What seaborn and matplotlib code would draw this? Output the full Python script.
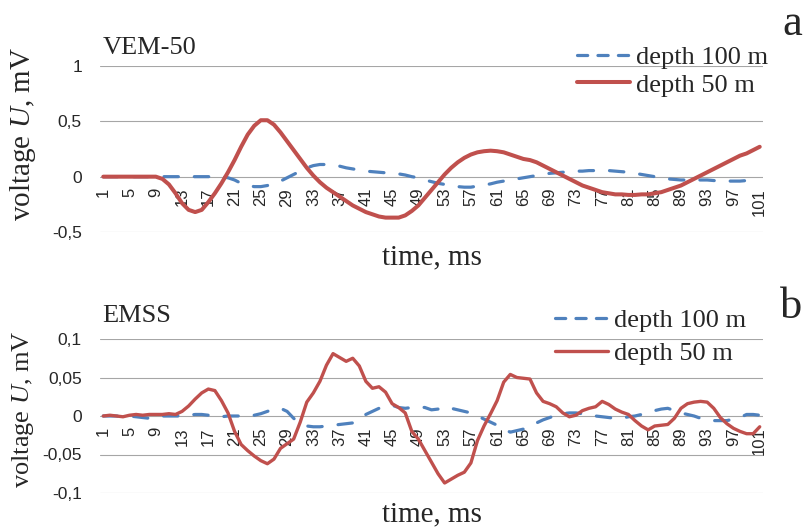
import numpy as np
import pandas as pd
import matplotlib
matplotlib.use("Agg")
import matplotlib.pyplot as plt
import seaborn as sns
from matplotlib.lines import Line2D

# time axis (categories 1..101 ms)
time_ms = np.arange(1, 102)
xtick_labels = [str(t) for t in range(1, 102, 4)]

# VEM-50 panel
vem_100m = [
    0, 0, 0, 0, 0, 0, 0, 0, 0, 0,
    0, 0, 0, 0, 0, 0, 0, 0, 0, -0.01,
    -0.03, -0.06, -0.08, -0.09, -0.09, -0.08, -0.06, -0.04, -0.01, 0.02,
    0.05, 0.08, 0.10, 0.11, 0.11, 0.105, 0.095, 0.08, 0.07, 0.06,
    0.05, 0.045, 0.04, 0.035, 0.03, 0.025, 0.015, 0.0, -0.01, -0.03,
    -0.045, -0.06, -0.07, -0.08, -0.09, -0.095, -0.095, -0.085, -0.075, -0.065,
    -0.05, -0.04, -0.03, -0.02, -0.01, 0.0, 0.01, 0.02, 0.03, 0.035,
    0.04, 0.045, 0.05, 0.05, 0.055, 0.055, 0.055, 0.055, 0.05, 0.045,
    0.04, 0.03, 0.02, 0.01, 0.0, -0.01, -0.02, -0.025, -0.03, -0.03,
    -0.03, -0.03, -0.03, -0.035, -0.04, -0.04, -0.04, -0.04, -0.035, -0.03, -0.03,
]
vem_50m = [
    0, 0, 0, 0, 0, 0, 0, 0, 0, -0.02,
    -0.07, -0.15, -0.24, -0.30, -0.32, -0.30, -0.23, -0.15, -0.06, 0.04,
    0.15, 0.27, 0.38, 0.46, 0.51, 0.51, 0.47, 0.40, 0.32, 0.24,
    0.16, 0.08, 0.01, -0.05, -0.10, -0.14, -0.18, -0.22, -0.26, -0.29,
    -0.32, -0.34, -0.36, -0.37, -0.37, -0.37, -0.35, -0.31, -0.26, -0.19,
    -0.12, -0.05, 0.02, 0.08, 0.13, 0.17, 0.20, 0.22, 0.23, 0.235,
    0.23, 0.22, 0.20, 0.18, 0.16, 0.15, 0.13, 0.10, 0.07, 0.04,
    0.01, -0.02, -0.05, -0.08, -0.10, -0.12, -0.14, -0.15, -0.16, -0.16,
    -0.165, -0.165, -0.16, -0.16, -0.15, -0.14, -0.12, -0.10, -0.08, -0.05,
    -0.02, 0.01, 0.04, 0.07, 0.10, 0.13, 0.16, 0.19, 0.21, 0.24, 0.27,
]

# EMSS panel
emss_100m = [
    0, 0, 0, -0.001, 0, -0.001, -0.002, -0.003, -0.002, 0,
    0, 0, 0, 0.001, 0.002, 0.002, 0.001, -0.001, -0.001, 0,
    0, 0, 0, 0.001, 0.003, 0.006, 0.009, 0.010, 0.006, -0.003,
    -0.010, -0.013, -0.014, -0.014, -0.013, -0.012, -0.011, -0.010, -0.009, -0.004,
    0.002, 0.006, 0.010, 0.013, 0.014, 0.011, 0.010, 0.011, 0.012, 0.011,
    0.008, 0.009, 0.012, 0.010, 0.008, 0.006, 0.004, 0.0, -0.004, -0.008,
    -0.012, -0.017, -0.021, -0.019, -0.017, -0.012, -0.009, -0.005, -0.002, 0.001,
    0.003, 0.004, 0.004, 0.003, 0.002, 0.0, -0.001, -0.002, -0.003, -0.003,
    -0.001, 0.0, 0.002, 0.004, 0.007, 0.009, 0.010, 0.007, 0.004, 0.002,
    0.0, -0.003, -0.005, -0.006, -0.006, -0.006, -0.004, -0.002, 0.002, 0.002, 0.001,
]
emss_50m = [
    0, 0.001, 0, -0.001, 0.001, 0.002, 0.001, 0.002, 0.002, 0.002,
    0.003, 0.002, 0.006, 0.013, 0.022, 0.030, 0.035, 0.033, 0.020, 0.004,
    -0.020, -0.037, -0.045, -0.052, -0.058, -0.062, -0.056, -0.042, -0.036, -0.030,
    -0.008, 0.018, 0.030, 0.045, 0.066, 0.081, 0.076, 0.071, 0.075, 0.065,
    0.045, 0.036, 0.038, 0.031, 0.016, 0.011, 0.004, -0.020, -0.030, -0.045,
    -0.060, -0.075, -0.087, -0.082, -0.077, -0.073, -0.061, -0.032, -0.013, 0.003,
    0.020, 0.044, 0.054, 0.050, 0.049, 0.048, 0.030, 0.019, 0.016, 0.012,
    0.004, -0.001, 0.001, 0.007, 0.010, 0.012, 0.019, 0.015, 0.009, 0.005,
    0.002, -0.006, -0.013, -0.018, -0.013, -0.012, -0.011, -0.003, 0.010, 0.016,
    0.018, 0.019, 0.018, 0.010, -0.002, -0.010, -0.016, -0.020, -0.023, -0.023, -0.014,
]

vem_yticks = [-0.5, 0, 0.5, 1]
vem_ylabels = ["-0,5", "0", "0,5", "1"]
emss_yticks = [-0.1, -0.05, 0, 0.05, 0.1]
emss_ylabels = ["-0,1", "-0,05", "0", "0,05", "0,1"]

series_names = ["depth 100 m", "depth 50 m"]
blue = "#4f81bd"
red = "#c0504d"

sns.set_style("white")
plt.rcParams["font.family"] = ["Liberation Serif", "DejaVu Serif"]
plt.rcParams["mathtext.fontset"] = "custom"
plt.rcParams["mathtext.rm"] = "Liberation Serif"
plt.rcParams["mathtext.it"] = "Liberation Serif:italic"

W, H = 805, 528
fig = plt.figure(figsize=(W / 100, H / 100), dpi=100)


def draw_panel(rect, v100, v50, yticks, ylabels, title, letter, lw50, leg_xy, leg_sp,
               ylab_size, ylab_shift, title_xy, letter_xy, xlab_y):
    l, t, r, b = rect
    ax = fig.add_axes([l / W, 1 - b / H, (r - l) / W, (b - t) / H])
    df = pd.DataFrame({"time": time_ms, "d100": v100, "d50": v50})
    sns.lineplot(data=df, x="time", y="d100", ax=ax, color=blue, linewidth=2.3)
    ln = ax.lines[-1]
    ln.set_dashes((4.5, 5))
    ln.set_dash_capstyle("round")
    sns.lineplot(data=df, x="time", y="d50", ax=ax, color=red, linewidth=lw50)
    ax.lines[-1].set_solid_capstyle("round")

    # category axis crosses at zero (do this before styling the tick labels)
    for s in ax.spines.values():
        s.set_visible(False)
    ax.spines["bottom"].set_position(("data", 0))

    ax.set_xlim(0.5, 101.5)
    ax.set_ylim(yticks[0], yticks[-1])
    ax.set_yticks(yticks)
    ax.set_yticklabels(ylabels, fontfamily="Liberation Sans", fontsize=12.5)
    ax.set_xticks(time_ms[::4])
    ax.set_xticklabels(xtick_labels, rotation=90, fontfamily="Liberation Sans",
                       fontsize=12)
    ax.tick_params(axis="y", length=0, pad=13)
    ax.tick_params(axis="x", length=0, pad=8)
    ax.grid(axis="y", color="#a6a6a6", linewidth=0.8)
    ax.set_axisbelow(True)
    ax.set_xlabel("")
    ax.set_ylabel("")

    handles = [Line2D([], [], color=blue, lw=2.3, dashes=(3.2, 3.2),
                      dash_capstyle="round"),
               Line2D([], [], color=red, lw=lw50, solid_capstyle="round")]
    ax.legend(handles, series_names, loc="upper left",
              bbox_to_anchor=(leg_xy[0] / W, 1 - leg_xy[1] / H),
              bbox_transform=fig.transFigure, frameon=False, fontsize=19,
              handlelength=2.0, handletextpad=0.25, borderpad=0,
              borderaxespad=0, labelspacing=leg_sp)

    fig.text(title_xy[0] / W, 1 - title_xy[1] / H, title, fontsize=19,
             ha="left", va="baseline")
    fig.text(letter_xy[0] / W, 1 - letter_xy[1] / H, letter, fontsize=32,
             ha="left", va="baseline")
    fig.text(432 / W, 1 - xlab_y / H, "time, ms", fontsize=21, ha="center",
             va="baseline")
    fig.text(23 / W, 1 - ((t + b) / 2 + ylab_shift) / H, "voltage $\\it{U}$, mV",
             fontsize=ylab_size, rotation=90, ha="center", va="center")
    return ax


draw_panel((100, 66, 763, 232), vem_100m, vem_50m, vem_yticks, vem_ylabels,
           "VEM-50", "a", 2.9, (577, 46), 0.14, 21, -15, (103, 54), (782, 35), 264)
draw_panel((100, 339, 763, 493), emss_100m, emss_50m, emss_yticks, emss_ylabels,
           "EMSS", "b", 2.4, (555, 309), 0.36, 19, -7, (102, 322), (780, 318), 521)

fig.savefig("out.png", dpi=100)
